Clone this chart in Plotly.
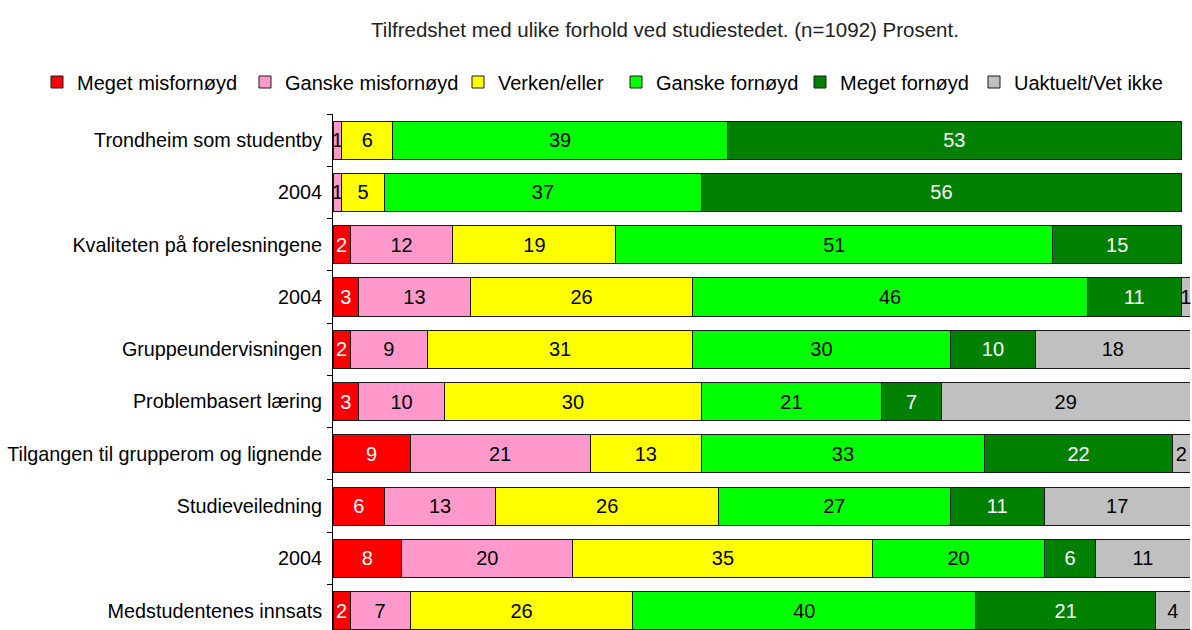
import plotly.graph_objects as go

categories = [
    "Trondheim som studentby",
    "2004",
    "Kvaliteten på forelesningene",
    "2004",
    "Gruppeundervisningen",
    "Problembasert læring",
    "Tilgangen til grupperom og lignende",
    "Studieveiledning",
    "2004",
    "Medstudentenes innsats",
]

series_names = [
    "Meget misfornøyd",
    "Ganske misfornøyd",
    "Verken/eller",
    "Ganske fornøyd",
    "Meget fornøyd",
    "Uaktuelt/Vet ikke",
]

meget_misfornoyd = [None, None, 2, 3, 2, 3, 9, 6, 8, 2]
ganske_misfornoyd = [1, 1, 12, 13, 9, 10, 21, 13, 20, 7]
verken_eller = [6, 5, 19, 26, 31, 30, 13, 26, 35, 26]
ganske_fornoyd = [39, 37, 51, 46, 30, 21, 33, 27, 20, 40]
meget_fornoyd = [53, 56, 15, 11, 10, 7, 22, 11, 6, 21]
uaktuelt = [None, None, None, 1, 18, 29, 2, 17, 11, 4]

series_values = [meget_misfornoyd, ganske_misfornoyd, verken_eller,
                 ganske_fornoyd, meget_fornoyd, uaktuelt]

colors = ["#FF0000", "#FF99CC", "#FFFF00", "#00FF00", "#008000", "#C0C0C0"]
text_colors = ["white", "black", "black", "black", "white", "black"]

# x (px) where each legend entry's text starts in the reference
legend_text_x = [74, 282, 495, 653, 837, 1011]

title_text = "Tilfredshet med ulike forhold ved studiestedet. (n=1092) Prosent."

FONT = "Liberation Sans, Arial, sans-serif"
W, H = 1192, 630

ypos = list(range(len(categories)))

fig = go.Figure()
legend_layouts = {}
for i, (name, vals, col, tcol) in enumerate(zip(series_names, series_values, colors, text_colors)):
    lname = "legend" if i == 0 else f"legend{i + 1}"
    fig.add_trace(go.Bar(
        name=name,
        y=ypos,
        x=vals,
        orientation="h",
        width=0.73,
        marker=dict(color=col, line=dict(color="#1a1a1a", width=1)),
        text=["" if v is None else str(v) for v in vals],
        textposition="inside",
        insidetextanchor="middle",
        textangle=0,
        cliponaxis=False,
        textfont=dict(family=FONT, size=20, color=tcol),
        hoverinfo="skip",
        legend=lname,
    ))
    legend_layouts[lname] = dict(
        xref="container", yref="container",
        x=(legend_text_x[i] + 3 - 40) / W, xanchor="left",
        y=1 - 82 / H, yanchor="middle",
        font=dict(family=FONT, size=20, color="black"),
        bgcolor="rgba(0,0,0,0)",
        itemclick=False, itemdoubleclick=False,
    )

fig.update_layout(
    barmode="stack",
    width=W,
    height=H,
    paper_bgcolor="white",
    plot_bgcolor="white",
    margin=dict(l=333, r=2, t=114, b=0, autoexpand=False),
    font=dict(family=FONT, size=20, color="black"),
    uniformtext=dict(minsize=20, mode="show"),
    title=dict(
        text=title_text,
        font=dict(family=FONT, size=20.5, color="#222222"),
        x=665 / W, xanchor="center", xref="container",
        y=1 - 30 / H, yanchor="middle", yref="container",
    ),
    showlegend=True,
    **legend_layouts,
)

fig.update_xaxes(range=[0, 100], visible=False, showgrid=False, zeroline=False)
fig.update_yaxes(
    range=[9.37, -0.5],
    automargin=False,
    tickmode="array",
    tickvals=ypos,
    ticktext=categories,
    ticks="",
    showgrid=False,
    zeroline=False,
    showline=True,
    linecolor="black",
    linewidth=1,
    ticklabelstandoff=6,
    tickfont=dict(family=FONT, size=19.8, color="black"),
    minor=dict(
        tickmode="array",
        tickvals=[i - 0.5 for i in range(len(categories) + 1)],
        ticks="outside",
        ticklen=5,
        tickcolor="black",
        tickwidth=1,
        showgrid=False,
    ),
)

fig.write_html(
    "out.html",
    config={"displayModeBar": False},
    post_script="document.body.style.margin='0px';document.body.style.overflow='hidden';",
)
